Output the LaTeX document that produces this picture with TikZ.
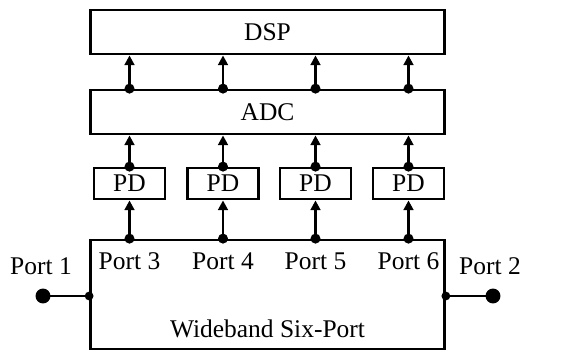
\documentclass[tikz,border=0pt]{standalone}
\usepackage{fontspec}
\setmainfont{Liberation Serif}
\usetikzlibrary{arrows.meta, positioning}

\begin{document}
\begin{tikzpicture}[x=0.02cm, y=-0.02cm,
  block/.style={draw, line width=1.6pt, inner sep=0pt, font=\fontsize{14.5}{17}\selectfont},
  widebox/.style={block, minimum width=7.08cm, minimum height=0.88cm},
  pdbox/.style={block, minimum width=1.42cm, minimum height=0.62cm},
  sig/.style={line width=1.6pt, -{Triangle[width=5.5pt,length=5.5pt]}},
  wire/.style={line width=1.6pt},
  jdot/.style={circle, fill, inner sep=0pt, minimum size=5.7pt},
  edot/.style={circle, fill, inner sep=0pt, minimum size=5pt},
  pdot/.style={circle, fill, inner sep=0pt, minimum size=8.5pt},
  lbl/.style={inner sep=0pt, font=\fontsize{14.5}{17}\selectfont}]
  \useasboundingbox (0,0) rectangle (582,352);
  % processing chain
  \node[widebox] (dsp) at (267.5,32) {DSP};
  \node[widebox] (adc) at (267.5,112) {ADC};
  \node[block, minimum width=7.08cm, minimum height=2.18cm] (six) at (267.5,294.5) {};
  \node[lbl] (sixlab) at (267.5,329) {Wideband Six-Port};
  \foreach \x [count=\i, evaluate=\i as \n using int(\i+2)] in {129.5,223,315.5,408.5} {
    \node[pdbox] (pd\i) at (\x,183.5) {PD};
    \node[lbl] (plab\i) at (\x,261) {Port \n};
    \node[jdot] (sa\i) at (six.north -| pd\i) {};
    \node[jdot] (sb\i) at (pd\i.north) {};
    \node[jdot] (sc\i) at (adc.north -| pd\i) {};
    \draw[sig] (sa\i.center) -- (pd\i.south);
    \draw[sig] (sb\i.center) -- (adc.south -| pd\i);
    \draw[sig] (sc\i.center) -- (dsp.south -| pd\i);
  }
  % RF ports
  \node[pdot] (port1) at (43,296) {};
  \node[pdot] (port2) at (493,296) {};
  \node[edot] (e1) at (six.west |- port1) {};
  \node[edot] (e2) at (six.east |- port2) {};
  \draw[wire] (port1.center) -- (e1.center);
  \draw[wire] (e2.center) -- (port2.center);
  \node[lbl] (p1lab) at (41,266) {Port 1};
  \node[lbl] (p2lab) at (490,266) {Port 2};
\end{tikzpicture}
\end{document}
